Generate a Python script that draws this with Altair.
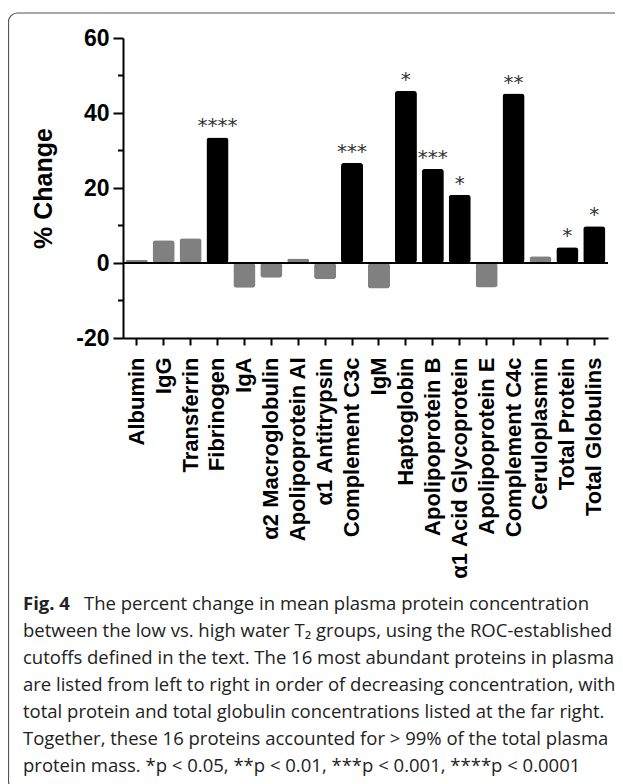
import altair as alt
import pandas as pd

proteins = ["Albumin", "IgG", "Transferrin", "Fibrinogen", "IgA", "α2 Macroglobulin",
            "Apolipoprotein AI", "α1 Antitrypsin", "Complement C3c", "IgM", "Haptoglobin",
            "Apolipoprotein B", "α1 Acid Glycoprotein", "Apolipoprotein E", "Complement C4c",
            "Ceruloplasmin", "Total Protein", "Total Globulins"]
pct_change = [0.8, 6.1, 6.6, 33.5, -6.6, -3.9, 1.2, -4.3, 26.7, -6.8, 45.9, 25.1, 18.2,
              -6.5, 45.2, 1.8, 4.2, 9.8]
significance = ["", "", "", "****", "", "", "", "", "***", "", "*", "***", "*", "", "**",
                "", "*", "*"]
y_major = [-20, 0, 20, 40, 60]
y_minor = [-10, 10, 30, 50]
caption_head = "Fig. 4"
caption_lines = [
    "The percent change in mean plasma protein concentration",
    "between the low vs. high water T\u2082 groups, using the ROC-established",
    "cutoffs defined in the text. The 16 most abundant proteins in plasma",
    "are listed from left to right in order of decreasing concentration, with",
    "total protein and total globulin concentrations listed at the far right.",
    "Together, these 16 proteins accounted for > 99% of the total plasma",
    "protein mass. *p < 0.05, **p < 0.01, ***p < 0.001, ****p < 0.0001",
]

df = pd.DataFrame({"protein": proteins, "change": pct_change, "sig": significance})
df["group"] = ["sig" if s else "ns" for s in significance]

W, H = 485, 300
y_scale = alt.Scale(domain=[-20, 60], nice=False, zero=True)
y_axis = alt.Axis(values=y_major, title="% Change", labelExpr="'' + datum.value",
                  labelFont="Liberation Sans", labelFontWeight="bold", labelFontSize=23,
                  labelColor="black", labelPadding=4, tickSize=10, tickWidth=2,
                  tickColor="black", domainColor="black", domainWidth=2, grid=False,
                  titleFont="Liberation Sans", titleFontWeight="bold", titleFontSize=25,
                  titleColor="black", titleAngle=270, titleX=-80, titleY=150,
                  titleAlign="center", titleBaseline="middle")
x_enc = alt.X("protein:N", sort=proteins,
              scale=alt.Scale(paddingInner=0.18, paddingOuter=0.1),
              axis=alt.Axis(title=None, labelAngle=270, labelAlign="right",
                            labelBaseline="middle", labelFont="Liberation Sans",
                            labelFontWeight="bold", labelFontSize=22, labelColor="black",
                            labelPadding=12, labelLimit=500, tickSize=7, tickWidth=2,
                            tickColor="black", domainColor="black", domainWidth=2))

border = alt.Chart(pd.DataFrame({"a": [0]})).mark_rect(
    fillOpacity=0, stroke="#555555", strokeWidth=1.2, cornerRadius=9
).encode(x=alt.value(-114.5), x2=alt.value(W + 60), y=alt.value(-25), y2=alt.value(752))

bars = alt.Chart(df).mark_bar(cornerRadius=3).encode(
    x=x_enc,
    y=alt.Y("change:Q", scale=y_scale, axis=y_axis),
    color=alt.Color("group:N", scale=alt.Scale(domain=["sig", "ns"],
                                               range=["#000000", "#808080"]), legend=None),
)

stars = alt.Chart(df).mark_text(
    baseline="alphabetic", dy=-5, font="DejaVu Sans", fontSize=20, color="#333333"
).encode(x=x_enc, y=alt.Y("change:Q", scale=y_scale, axis=y_axis), text="sig:N")

minor = alt.Chart(pd.DataFrame({"change": y_minor})).mark_rule(
    color="black", strokeWidth=2
).encode(y=alt.Y("change:Q", scale=y_scale, axis=y_axis), x=alt.value(-5), x2=alt.value(0))

zero_line = alt.Chart(pd.DataFrame({"change": [0]})).mark_rule(
    color="black", strokeWidth=2
).encode(y=alt.Y("change:Q", scale=y_scale, axis=y_axis), x=alt.value(0), x2=alt.value(W))

layers = [border, bars, zero_line, minor, stars]

base_y = 572
line_h = 27
cap_size = 18.5
head = alt.Chart(pd.DataFrame({"t": [caption_head]})).mark_text(
    align="left", baseline="alphabetic", font="Open Sans", fontWeight="bold",
    fontSize=cap_size, color="#222222"
).encode(x=alt.value(-100), y=alt.value(base_y), text="t:N")
layers.append(head)
for i, line in enumerate(caption_lines):
    xpos = -39 if i == 0 else -100
    layers.append(
        alt.Chart(pd.DataFrame({"t": [line]})).mark_text(
            align="left", baseline="alphabetic", font="Open Sans", fontSize=cap_size,
            color="#222222"
        ).encode(x=alt.value(xpos), y=alt.value(base_y + i * line_h), text="t:N")
    )

chart = alt.layer(*layers).properties(
    width=W, height=H,
    autosize=alt.AutoSizeParams(type="none"),
    padding={"left": 115, "top": 30, "right": 7, "bottom": 446},
).configure_view(stroke=None)

chart.save("out.html", embed_options={"renderer": "svg", "actions": False})
